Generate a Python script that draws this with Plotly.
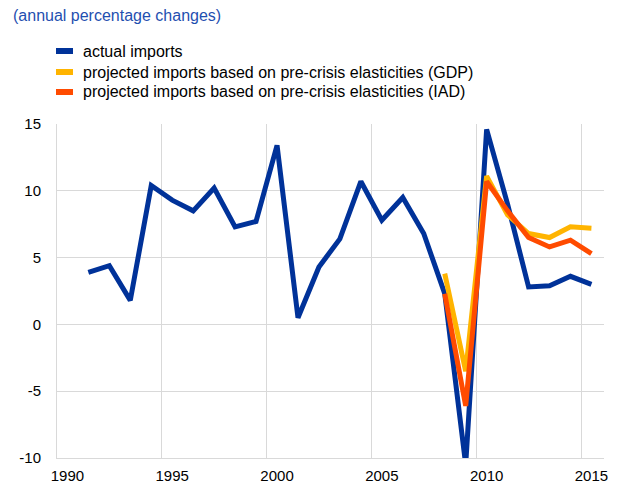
import plotly.graph_objects as go

# ---- data ----
years_actual = list(range(1991, 2016))
actual_imports = [3.9, 4.4, 1.8, 10.4, 9.3, 8.5, 10.2, 7.3, 7.7, 13.4, 0.5,
                  4.3, 6.4, 10.7, 7.8, 9.5, 6.8, 2.3, -10.5, 14.6, 9.0,
                  2.8, 2.9, 3.6, 3.0]
years_proj = list(range(2008, 2016))
proj_gdp = [3.8, -3.5, 11.1, 8.2, 6.8, 6.5, 7.3, 7.2]
proj_iad = [2.3, -6.1, 10.7, 8.5, 6.5, 5.8, 6.3, 5.3]

series_names = ["actual imports",
                "projected imports based on pre-crisis elasticities (GDP)",
                "projected imports based on pre-crisis elasticities (IAD)"]
series_colors = ["#003299", "#ffb400", "#ff4b00"]
x_ticks = [1990, 1995, 2000, 2005, 2010, 2015]
y_ticks = [-10, -5, 0, 5, 10, 15]
y_tick_labels = ["-10", "-5", "0", "5", "10", "15"]

def mid_year(ys):
    return [f"{y}-07-01" for y in ys]

def year_start(ys):
    return [f"{y}-01-01" for y in ys]

fig = go.Figure()
for xs, vals, name, col in [
    (years_actual, actual_imports, series_names[0], series_colors[0]),
    (years_proj, proj_gdp, series_names[1], series_colors[1]),
    (years_proj, proj_iad, series_names[2], series_colors[2]),
]:
    fig.add_trace(go.Scatter(x=mid_year(xs), y=vals, mode="lines", name=name,
                             line=dict(color=col, width=5), showlegend=False))

# page body has an 8px margin; figure coordinates = screen - 8
OFF = 8
W, H = 620, 489
L, T = 57 - OFF, 124 - OFF
R = W - (604 - OFF)
B = H - (458 - OFF)
pw, ph = W - L - R, H - T - B

def px_to_paper(sx, sy):
    fx, fy = sx - OFF, sy - OFF
    return (fx - L) / pw, (H - B - fy) / ph

# manual legend
legend_rows_y = [51, 72, 92]
for name, col, ry in zip(series_names, series_colors, legend_rows_y):
    x0, y0 = px_to_paper(56, ry - 3)
    x1, y1 = px_to_paper(73, ry + 3)
    fig.add_shape(type="rect", xref="paper", yref="paper", x0=x0, x1=x1,
                  y0=y1, y1=y0, fillcolor=col, line=dict(width=0), layer="above")
    tx, ty = px_to_paper(82, ry)
    fig.add_annotation(xref="paper", yref="paper", x=tx, y=ty, text=name,
                       showarrow=False, xanchor="left", yanchor="middle",
                       borderpad=0, font=dict(size=16, color="#000000"))

tx, ty = px_to_paper(12, 16)
fig.add_annotation(xref="paper", yref="paper", x=tx, y=ty,
                   text="(annual percentage changes)", showarrow=False,
                   xanchor="left", yanchor="middle", borderpad=0,
                   font=dict(size=16, color="#1f4fb0"))

grid = "#d9d9d9"
fig.update_layout(
    width=W, height=H,
    margin=dict(l=L, r=R, t=T, b=B, pad=0, autoexpand=False),
    paper_bgcolor="white", plot_bgcolor="white",
    font=dict(family="Liberation Sans, Arial, sans-serif", size=15, color="#000000"),
    xaxis=dict(type="date", range=["1990-01-01", "2016-02-05"],
               tickmode="array",
               tickvals=mid_year(x_ticks),
               ticktext=[str(y) for y in x_ticks],
               showgrid=False,
               minor=dict(tickmode="array", tickvals=year_start(x_ticks),
                          showgrid=True, gridcolor=grid, gridwidth=1, ticks=""),
               showline=True, linecolor=grid, linewidth=1, automargin=False,
               ticks="", zeroline=False, ticklabelstandoff=4),
    yaxis=dict(range=[-10, 15], tickvals=y_ticks, ticktext=y_tick_labels,
               showgrid=True, gridcolor=grid, gridwidth=1,
               showline=True, linecolor=grid, linewidth=1, automargin=False,
               ticks="", zeroline=True, zerolinecolor=grid, zerolinewidth=1,
               ticklabelstandoff=12),
)

fig.write_html("out.html")
